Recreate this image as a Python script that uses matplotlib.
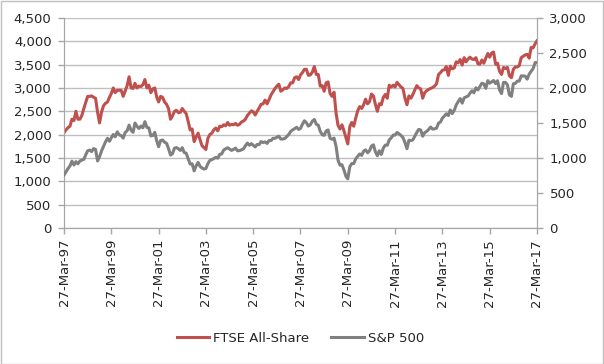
import numpy as np
import pandas as pd
import matplotlib
matplotlib.use("Agg")
import matplotlib.pyplot as plt
import matplotlib.dates as mdates

# Monthly readings, 27-Mar-97 .. 27-Mar-17
dates = pd.date_range("1997-03-01", "2017-03-01", freq="MS") + pd.Timedelta(days=26)

ftse = [
    2040, 2100, 2150, 2180, 2330, 2300, 2500, 2330, 2330, 2410,                      # 1997
    2560, 2700, 2820, 2820, 2830, 2800, 2780, 2480, 2250, 2480, 2620, 2670,          # 1998
    2700, 2800, 2880, 3000, 2900, 2950, 2950, 2950, 2820, 2930, 3050, 3240,          # 1999
    3000, 2990, 3100, 3000, 3040, 3030, 3070, 3180, 3000, 3060, 2900, 2980,          # 2000
    3000, 2800, 2700, 2820, 2800, 2700, 2650, 2560, 2330, 2400, 2500, 2520,          # 2001
    2470, 2480, 2560, 2500, 2450, 2280, 2100, 2120, 1850, 1950, 2030, 1890,          # 2002
    1760, 1720, 1680, 1920, 2000, 2030, 2100, 2140, 2080, 2180, 2170, 2210,          # 2003
    2190, 2260, 2200, 2220, 2210, 2240, 2200, 2220, 2270, 2290, 2330, 2410,          # 2004
    2460, 2510, 2490, 2420, 2500, 2570, 2650, 2660, 2740, 2660, 2750, 2850,          # 2005
    2920, 2990, 3040, 3080, 2930, 2960, 3000, 2990, 3030, 3110, 3110, 3220,          # 2006
    3240, 3180, 3280, 3330, 3400, 3400, 3270, 3280, 3340, 3460, 3290, 3290,          # 2007
    3040, 3050, 2930, 3110, 3130, 2880, 2820, 2910, 2460, 2200, 2120, 2210,          # 2008
    2080, 1930, 1800, 2170, 2260, 2180, 2350, 2510, 2600, 2560, 2640, 2760,          # 2009
    2660, 2710, 2870, 2830, 2650, 2500, 2660, 2640, 2800, 2860, 2780, 3060,          # 2010
    3020, 3060, 3020, 3120, 3070, 3020, 2990, 2780, 2640, 2830, 2780, 2860,          # 2011
    2960, 3050, 3000, 2980, 2780, 2900, 2940, 2970, 2990, 3010, 3040, 3090,          # 2012
    3290, 3330, 3380, 3390, 3460, 3270, 3470, 3410, 3430, 3560, 3540, 3610,          # 2013
    3490, 3650, 3560, 3620, 3660, 3620, 3610, 3650, 3520, 3510, 3600, 3530,          # 2014
    3640, 3740, 3660, 3750, 3770, 3510, 3530, 3360, 3290, 3440, 3420, 3440,          # 2015
    3260, 3220, 3400, 3450, 3450, 3480, 3650, 3680, 3710, 3720, 3640, 3870,          # 2016
    3860, 3950, 4010,                                                                # 2017
]

spx = [
    757, 801, 848, 885, 954, 899, 947, 915, 955, 970,                                # 1997
    980, 1049, 1102, 1112, 1091, 1134, 1121, 957, 1017, 1099, 1164, 1229,            # 1998
    1280, 1238, 1286, 1335, 1302, 1373, 1329, 1320, 1283, 1363, 1389, 1469,          # 1999
    1394, 1366, 1499, 1452, 1421, 1455, 1431, 1518, 1437, 1429, 1315, 1320,          # 2000
    1366, 1240, 1160, 1249, 1256, 1224, 1211, 1134, 1041, 1060, 1139, 1148,          # 2001
    1130, 1107, 1147, 1077, 1067, 990, 912, 916, 815, 886, 936, 880,                 # 2002
    856, 841, 848, 917, 964, 975, 990, 1008, 996, 1051, 1058, 1112,                  # 2003
    1131, 1145, 1126, 1107, 1121, 1141, 1102, 1104, 1115, 1130, 1174, 1212,          # 2004
    1181, 1204, 1181, 1157, 1192, 1191, 1234, 1220, 1229, 1207, 1249, 1248,          # 2005
    1280, 1281, 1295, 1311, 1270, 1270, 1277, 1304, 1336, 1378, 1401, 1418,          # 2006
    1438, 1407, 1421, 1482, 1531, 1503, 1455, 1474, 1527, 1549, 1481, 1468,          # 2007
    1379, 1331, 1323, 1386, 1400, 1280, 1267, 1283, 1166, 969, 896, 903,             # 2008
    826, 735, 700, 873, 919, 919, 987, 1021, 1057, 1036, 1096, 1115,                 # 2009
    1074, 1104, 1169, 1187, 1089, 1031, 1102, 1049, 1141, 1183, 1181, 1258,          # 2010
    1286, 1327, 1326, 1364, 1345, 1321, 1292, 1219, 1131, 1253, 1247, 1258,          # 2011
    1312, 1366, 1408, 1398, 1310, 1362, 1379, 1407, 1441, 1412, 1416, 1426,          # 2012
    1498, 1515, 1569, 1598, 1631, 1606, 1686, 1633, 1682, 1757, 1806, 1848,          # 2013
    1783, 1859, 1872, 1884, 1924, 1960, 1931, 2003, 1972, 2018, 2068, 2059,          # 2014
    1995, 2105, 2068, 2086, 2107, 2063, 2104, 1972, 1920, 2079, 2080, 2044,          # 2015
    1900, 1880, 2060, 2065, 2097, 2099, 2174, 2171, 2168, 2126, 2199, 2239,          # 2016
    2279, 2364, 2363,                                                                # 2017
]

series_labels = ["FTSE All-Share", "S&P 500"]
left_ticks = np.arange(0, 4501, 500)
right_ticks = np.arange(0, 3001, 500)
x_ticks = pd.to_datetime(["%d-03-27" % y for y in range(1997, 2018, 2)])

RED = "#c0504d"
GREY = "#808080"
TXT = "#262626"
AXC = "#a6a6a6"

plt.rcParams.update({"font.family": "DejaVu Sans", "font.size": 9.5})

fig = plt.figure(figsize=(6.04, 3.64), dpi=100)
ax = fig.add_axes([0.106, 0.374, 0.783, 0.5765])
ax2 = ax.twinx()

l1, = ax.plot(dates, ftse, color=RED, lw=2.2, label=series_labels[0], zorder=3)
l2, = ax2.plot(dates, spx, color=GREY, lw=2.2, label=series_labels[1], zorder=3)

ax.set_ylim(0, 4500)
ax.set_yticks(left_ticks)
ax.set_yticklabels([f"{v:,}" for v in left_ticks])
ax2.set_ylim(0, 3000)
ax2.set_yticks(right_ticks)
ax2.set_yticklabels([f"{v:,}" for v in right_ticks])

ax.set_xlim(x_ticks[0], x_ticks[-1])
ax.set_xticks(x_ticks)
ax.xaxis.set_major_formatter(mdates.DateFormatter("%d-%b-%y"))
for lbl in ax.get_xticklabels():
    lbl.set_rotation(90)

ax.grid(axis="y", color="#bfbfbf", lw=1)
ax.set_axisbelow(True)

for a in (ax, ax2):
    for s in a.spines.values():
        s.set_color(AXC)
    a.spines["top"].set_visible(False)
    a.tick_params(colors=AXC, labelcolor=TXT, length=4, width=1)
ax.tick_params(axis="y", pad=5)
ax2.tick_params(axis="y", pad=5)
ax.tick_params(axis="x", pad=4)

# legend below the plot, centred on the figure
fig.legend([l1, l2], series_labels, loc="center", bbox_to_anchor=(0.497, 0.071),
           ncol=2, frameon=False, handlelength=2.5, handletextpad=0.25,
           columnspacing=1.7, labelcolor=TXT)

fig.patches.append(plt.Rectangle((0.001, 0.001), 0.997, 0.996, transform=fig.transFigure,
                                 fill=False, edgecolor="#bfbfbf", lw=1))

fig.savefig("out.png", dpi=100)
